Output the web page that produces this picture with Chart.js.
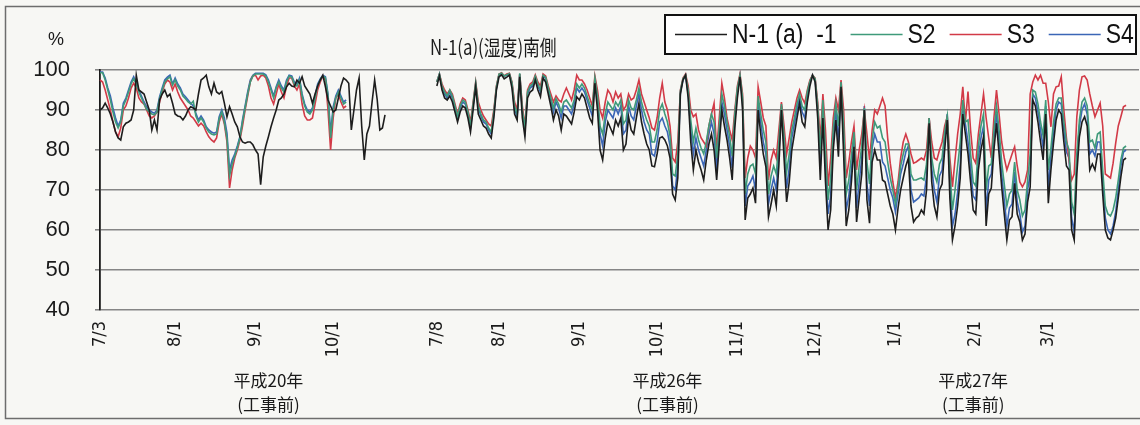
<!DOCTYPE html>
<html>
<head>
<meta charset="utf-8">
<script src="https://cdn.jsdelivr.net/npm/chart.js@4.4.1/dist/chart.umd.min.js"></script>
<style>
  html, body { margin: 0; padding: 0; background: #f7f7f4; }
  #wrap { width: 1140px; height: 425px; position: relative; }
</style>
</head>
<body>
<div id="wrap"><canvas id="c"></canvas></div>
<script>
// ---- daily humidity readings (%) ----
const title = 'N-1(a)(湿度)南側';
const seriesNames = ['N-1 (a)  -1', 'S2', 'S3', 'S4'];

// summer/autumn 2008 (from 7/3)
const n1_2008 = [
  90, 90.5, 91.7, 90.5, 89, 87, 84.5, 83, 82.5, 85.8,
  86.7, 87, 87.5, 90, 98.7, 95, 94.5, 94, 92, 90,
  85, 87.5, 85, 92.5, 94, 95, 93.3, 94, 91.7, 89,
  88.5, 88.3, 87.5, 88.5, 90, 90.8, 90.5, 90, 94, 97.5,
  98, 98.7, 95.8, 94, 96.7, 94.5, 94, 94.6, 91.7, 88.3,
  90.8, 89, 87, 85.8, 83.3, 82, 81.7, 82, 82, 81.3,
  80, 79, 71.3, 78.3, 81, 83.3, 85.8, 88, 90, 92.5,
  93, 94, 95.8, 96.7, 96, 95.8, 97.5, 96.7, 98.3, 96,
  95, 94, 91.7, 94, 96, 97.5, 98.7, 95.8, 92.5, 91,
  89.5, 90, 93, 96, 98, 97.5, 96.7, 85, 90, 95,
  98, 86, 77.5, 84, 86, 92, 97.5, 92.5, 85, 85.5,
  88.8
];
const s2_2008 = [
  99.3, 99.3, 97.5, 95, 92.5, 89.5, 87, 85.5, 87, 91,
  92.5, 94.5, 96.5, 97.8, 96.5, 94.5, 93, 91.5, 90.2, 89.5,
  89, 88.8, 89.5, 92.8, 95, 97, 97.8, 98.3, 96.2, 97.5,
  96, 95, 93.5, 92.8, 92, 91.5, 92.2, 88.5, 87, 88,
  87, 85.5, 84.5, 84, 83.8, 84, 87.8, 89.5, 87, 83,
  73.5, 76.5, 78.5, 80.5, 83, 87, 90.5, 94, 97, 98.5,
  99, 99, 99, 99, 98.5, 97, 95, 93, 95.5, 97,
  95.5, 94.5, 97, 98.5, 98.2, 96.5, 96, 97.5, 93.5, 91,
  89.5, 89, 90, 93, 96, 97.5, 98.5, 98, 93.5, 83,
  90, 93, 94.5, 93, 91.5, 92
];
const s3_2008 = [
  97.5, 97, 95, 92.5, 90, 87, 84.5, 83.3, 85.5, 90,
  91, 93, 95.5, 96.7, 95.5, 93, 92, 91.5, 90, 88.5,
  88, 88.5, 89.5, 92, 94.5, 96.5, 97.5, 97, 95, 96.5,
  94.5, 93, 92, 91, 90, 88.5, 88, 87, 86, 86.7,
  86, 84.5, 83.3, 82.5, 82, 83, 87, 89, 86.5, 82,
  70.5, 75, 78, 80, 82.5, 86, 90, 93.5, 97, 98.5,
  98.7, 97.5, 98.5, 98.7, 98, 96, 93, 91.5, 94, 96.5,
  94.5, 93, 96, 98, 98, 96, 95, 96.5, 91.5, 88.5,
  87.5, 87.5, 88, 91.5, 95, 97, 98.5, 97.5, 90, 80,
  88, 93, 94, 92, 90.5, 91
];
const s4_2008 = [
  99.5, 99.5, 98, 95.5, 93.5, 90.5, 88, 86, 87.5, 91.7,
  93, 95, 97, 98.3, 96.7, 95, 93.5, 92, 90.8, 90,
  89.5, 89.2, 90, 93.3, 95.5, 97.5, 98.2, 98.7, 96.5, 98,
  96.5, 95.5, 94, 93.3, 92.5, 91.7, 91, 89.2, 87.5, 88.5,
  87.5, 85.8, 85, 84.5, 84.2, 84.5, 88.3, 90, 88, 84.2,
  75, 77.5, 79, 81, 83.3, 87.5, 91, 94.5, 97.5, 98.7,
  99.2, 99.2, 99.2, 99.2, 98.8, 97.5, 95.5, 93.5, 95.8, 97.5,
  96, 95, 97.5, 98.7, 98.5, 97, 96.5, 98, 94, 91.5,
  90, 89.5, 90.5, 93.5, 96.5, 97.8, 98.7, 98.3, 94, 84.2,
  90.8, 93.5, 95, 93.5, 92, 92.5
];

// 2014/7/8 - 2015/3/31
const n1_2014 = [
  96, 98.5, 95, 93, 92.5, 93.5, 92, 89.5, 87, 89.5,
  91, 90.5, 88, 84.5, 90, 95.8, 89, 87.5, 86, 85.5,
  84, 83, 88, 95, 98.3, 98.8, 97.8, 98.2, 98.7, 95.5,
  89, 87.5, 98.3, 88, 83.3, 93, 94.5, 95, 97.5, 95,
  93.3, 98, 97, 94, 91, 87.5, 90, 88.5, 85, 89,
  88.5, 87.5, 86.5, 89.5, 93.3, 92.5, 94, 93, 90.5, 88,
  86.7, 96.7, 90, 80, 77.5, 83, 87, 85.5, 84, 87.5,
  86, 88, 80, 81.5, 88.3, 85, 84, 88, 91.7, 87,
  84, 81.5, 80, 76, 75.8, 79, 83, 83.3, 82.5, 81,
  78, 69, 67.5, 73, 94, 97.5, 98.7, 93, 82, 75,
  80, 77, 75, 72.5, 77.5, 81.5, 84, 80, 72.5, 81.5,
  90, 86, 82.5, 78, 72.5, 85.5, 93, 98.3, 90, 62.5,
  68, 69, 70.5, 66.7, 90, 84, 79, 75.8, 63.3, 66.5,
  70, 66, 76, 90, 78, 67, 72, 80, 84, 88,
  91.7, 87, 85.8, 92, 96, 98.7, 97, 88, 72.5, 88,
  72, 60, 65, 80, 87.5, 78.3, 95.8, 79, 61, 65,
  72, 80.8, 62, 68, 74, 90, 67.5, 61.7, 77, 80,
  77.5, 77.5, 72.5, 72, 69, 66, 64, 60, 65.5, 70,
  73, 76, 78, 66, 62, 63, 63.5, 65, 64, 70,
  86.7, 72, 66, 63.3, 70, 71.5, 80, 87.5, 68, 57.5,
  61, 66, 73, 89, 84, 79, 72, 65, 64, 75,
  80, 83.3, 61, 69, 70.5, 80, 86.7, 79, 70.8, 64,
  57.5, 62.5, 63.3, 71.7, 64, 62, 57.5, 59, 67, 70.8,
  92.5, 91, 87, 82, 77.5, 89, 66.7, 75, 81.7, 87.5,
  90, 89, 82, 76, 75, 60, 57.5, 74, 83.3, 87,
  88.3, 86, 75, 76.5, 75, 79, 79, 69, 60, 58,
  57.5, 60, 63, 68, 73.3, 77.5, 78
];
const s2_2014 = [
  97, 99, 96, 94.5, 93.5, 95, 93.5, 91, 88.5, 91,
  92.5, 92, 89.5, 86, 91.5, 96.8, 91, 89, 87.5, 87,
  85.5, 84.5, 89.5, 95.8, 99, 99.2, 98.5, 98.8, 99.1, 96.8,
  91, 89, 99.2, 90, 85.5, 94.5, 96, 96.5, 98.5, 96.5,
  95, 98.7, 98.2, 95.5, 93, 90.5, 92.8, 91.5, 89.5, 92,
  92.5, 91.5, 90.5, 92.5, 96.5, 95.5, 96.5, 95.5, 93.5, 91.5,
  90, 98, 93.5, 86, 84, 89, 92, 91, 90, 92,
  91, 92.5, 86.5, 87.5, 92.5, 90.5, 90, 92.5, 95.5, 92,
  89.5, 87.5, 86, 82, 82, 85, 90, 91.5, 89, 87,
  83.5, 74, 73.5, 79, 94.8, 97.8, 98.8, 95, 87.5, 82,
  85.5, 82.5, 80.5, 79, 82, 86, 89, 87, 78, 86,
  94, 91, 87, 83.5, 78.5, 89, 95.5, 98.7, 93, 69,
  74, 76, 76.5, 74, 93.5, 89, 85, 82, 69, 73.5,
  76, 74, 82, 91.5, 83.5, 74.5, 79, 85, 88, 91.5,
  94, 91, 90, 94.5, 97.2, 98.7, 97.8, 91, 79, 92.5,
  80, 67.5, 73, 85.5, 91.5, 86, 97, 86, 69, 72.5,
  78.5, 84.5, 70, 76, 81, 90.5, 77, 71.5, 82.5, 87,
  85.5, 86, 83, 82, 77, 73, 70, 66.5, 70.5, 76,
  79, 81.5, 81.5, 74, 72.5, 72.5, 72.8, 73, 72.5, 76.5,
  88, 78, 74, 72, 76.5, 78, 84.5, 88.5, 75, 65,
  70, 76, 82, 92.5, 87, 87.5, 79, 72, 71, 81,
  86, 89, 70, 76, 76.5, 85, 91, 85, 77, 71.5,
  66, 69, 70, 77, 70, 67.5, 63.5, 65, 72.5, 79,
  95, 94.5, 91.5, 87, 83.5, 92.5, 75, 80.5, 87, 91.5,
  93, 93, 87, 82, 80, 67, 64, 79, 87.5, 92,
  93, 91, 82, 82.5, 80.5, 84, 84.5, 75, 66, 64,
  63.5, 65, 68, 72.5, 77.5, 80.5, 81
];
const s3_2014 = [
  97, 99, 96.5, 95, 94, 95, 94, 91.5, 89, 91.5,
  93, 92.5, 90, 87, 92, 97, 92, 90, 88.5, 87.5,
  86.5, 86, 90, 96, 99, 99.3, 98.5, 99, 99.2, 97,
  92, 90, 99, 91, 86, 95, 96.5, 97, 98.8, 97,
  96, 99, 98.5, 96, 94, 92, 93.5, 92.5, 92, 94,
  95.5, 94, 92.5, 95, 98.7, 97.5, 97.5, 96.5, 95, 93,
  91, 98.5, 95, 90, 88, 92, 95, 94, 92, 94.5,
  93, 94, 90, 91, 94, 92.5, 93, 95, 97.5, 94,
  92, 90, 88, 85.5, 85, 88, 93, 96.7, 92, 90,
  86, 78, 77, 82, 95, 98, 99, 96, 90, 88.3,
  89, 85, 83, 82, 81, 86, 89, 91.7, 80, 88,
  96.7, 93, 88, 85, 82.5, 90, 96, 99, 94, 73,
  78, 81, 80, 78, 95.8, 92, 88, 86, 72.5, 77.5,
  80, 78, 85, 92, 86, 79, 83, 87, 90, 93,
  95, 93, 91.7, 95, 97.5, 98.7, 98, 92, 82.5, 94,
  85, 71, 78, 88, 93, 90, 97.5, 90, 73, 77,
  82, 86, 75, 80, 84, 90, 84, 77.5, 85, 90,
  89, 91, 93, 91, 83, 76.7, 72, 68, 72, 78,
  82, 84, 82, 79, 76.7, 77, 77.5, 78, 77.5, 80,
  88, 82, 78, 77.5, 80, 82, 86, 88.3, 78, 70.8,
  77.5, 84, 89, 95.8, 87, 94.6, 85, 78, 76.7, 84,
  89, 94, 88, 83, 78, 88, 95, 89, 82, 78,
  75, 77, 79, 80.8, 76, 72, 70.8, 72, 75, 94,
  97, 98.7, 97.5, 98.7, 96.7, 96.7, 92, 85.8, 94, 95.8,
  96, 98.3, 90, 83, 77.5, 72.5, 74, 88.3, 95, 98.3,
  98.5, 97.5, 94, 91, 88.3, 90, 91.7, 86, 74, 73.5,
  73, 76.7, 81.7, 86, 88.3, 90.8, 91.2
];
const s4_2014 = [
  97, 99, 95.5, 94, 93, 94.5, 93, 90.5, 88, 90.5,
  92, 91.5, 89, 85.5, 91, 96.5, 90.5, 88.5, 87, 86.5,
  85, 84, 89, 95.5, 98.8, 99, 98.5, 98.7, 99, 96.5,
  90, 88.5, 99, 89.5, 85, 94, 95.5, 96, 98.3, 96,
  94.5, 98.5, 98, 95, 92.5, 89.5, 92, 90.5, 88, 91,
  91, 90, 89, 91.5, 95.5, 94.5, 95.5, 94.5, 92.5, 90.5,
  88.5, 97.5, 92.5, 84, 81, 87, 90, 89, 88, 90.5,
  89, 91, 84, 85, 91, 88.5, 87.5, 91, 94, 90,
  87, 85, 84, 79, 78.5, 82, 87, 88, 86, 84.5,
  81, 71, 70, 76, 94.5, 97.5, 98.7, 94, 85, 79,
  83, 80, 78, 76, 80, 84, 87, 84, 75, 84,
  92, 89, 85, 81, 75.5, 87.5, 94.5, 98.5, 92, 66,
  71, 72, 73.5, 70, 92, 87, 82, 79, 66.5, 70,
  73, 70, 79, 91, 81, 70.5, 75.5, 83, 86.5, 90,
  93, 89.5, 88, 93.5, 97, 98.7, 97.5, 90, 76, 91,
  76, 64, 68.5, 83, 90, 82, 96.5, 82.5, 65, 68.5,
  75, 83, 65.5, 72, 78, 91, 71.5, 66, 80.5, 84,
  82, 82, 77, 76, 73, 70, 68, 64.5, 69, 74,
  76.5, 79.5, 81, 70, 67, 67.5, 68, 69, 68.5, 73.5,
  88, 75.5, 70, 67, 73.5, 75, 83, 89, 72, 61,
  64, 69.5, 76.5, 91, 86.5, 82, 75.5, 68.5, 67.5, 78,
  83, 86, 64.5, 72.5, 74, 83, 89, 82, 74, 67.5,
  61, 65.5, 66.5, 74.5, 67, 64, 59.5, 61, 70, 74,
  94, 93, 89.5, 85, 80.5, 91, 70, 78.5, 84.5, 90,
  92, 91.5, 85, 79.5, 78, 63, 59.5, 77, 86, 90,
  91.5, 89, 79, 80, 78.5, 82, 82, 72, 63, 60,
  59, 61, 64.5, 70, 76, 79.5, 80
];

// ---- axis ----
function dayRange(first, last) {
  const out = [];
  const d = new Date(first + 'T00:00:00Z');
  const end = new Date(last + 'T00:00:00Z');
  while (d <= end) {
    out.push(d.toISOString().slice(0, 10));
    d.setUTCDate(d.getUTCDate() + 1);
  }
  return out;
}
const days2008 = dayRange('2008-07-03', '2008-10-31');
const days2014 = dayRange('2014-07-08', '2015-03-31');
const gapSlots = 9;
const tailSlots = 5;
const categories = [
  ...days2008,
  ...Array.from({ length: gapSlots }, (_, i) => 'gap' + i),
  ...days2014,
  ...Array.from({ length: tailSlots }, (_, i) => 'end' + i)
];
const tickDates = [
  '2008-07-03', '2008-08-01', '2008-09-01', '2008-10-01',
  '2014-07-08', '2014-08-01', '2014-09-01', '2014-10-01', '2014-11-01', '2014-12-01',
  '2015-01-01', '2015-02-01', '2015-03-01'
];
const yTicks = [40, 50, 60, 70, 80, 90, 100];
const periodLabels = [
  { text: '平成20年', note: '(工事前)', at: '2008-09-06' },
  { text: '平成26年', note: '(工事前)', at: '2014-10-05' },
  { text: '平成27年', note: '(工事前)', at: '2015-01-31' }
];

function fullSeries(a, b) {
  const pad = (arr, n) => arr.concat(Array(Math.max(0, n - arr.length)).fill(null));
  return [
    ...pad(a, days2008.length),
    ...Array(gapSlots).fill(null),
    ...pad(b, days2014.length),
    ...Array(tailSlots).fill(null)
  ];
}

const colors = ['#1d1d1d', '#3f9a7a', '#d23a47', '#3b66b6'];
const sets = [[n1_2008, n1_2014], [s2_2008, s2_2014], [s3_2008, s3_2014], [s4_2008, s4_2014]];

const SANS = '"Liberation Sans", Arial, sans-serif';
const NARROW = '"Liberation Sans Narrow", "DejaVu Sans Condensed", "Liberation Sans", sans-serif';
const JP = '"Noto Sans CJK JP", "Noto Sans", sans-serif';

const decor = {
  id: 'decor',
  beforeDraw(chart) {
    const ctx = chart.ctx;
    ctx.save();
    ctx.fillStyle = '#f7f7f4';
    ctx.fillRect(0, 0, chart.width, chart.height);
    ctx.strokeStyle = '#6d6d6d';
    ctx.lineWidth = 1.5;
    ctx.strokeRect(5.5, 6.5, chart.width + 10, 412);
    ctx.restore();
  },
  afterDraw(chart) {
    const ctx = chart.ctx;
    const xs = chart.scales.x;
    ctx.save();
    ctx.fillStyle = '#1a1a1a';

    // unit
    ctx.font = '18px ' + SANS;
    ctx.textAlign = 'center';
    ctx.textBaseline = 'middle';
    ctx.fillText('%', 56, 40);

    // title
    ctx.save();
    ctx.translate(430, 47);
    ctx.scale(0.8, 1);
    ctx.font = '21px ' + JP;
    ctx.textAlign = 'left';
    ctx.fillText(title, 0, 0);
    ctx.restore();

    // period captions under the date axis
    ctx.font = '17px ' + JP;
    ctx.textAlign = 'center';
    periodLabels.forEach(p => {
      const x = xs.getPixelForValue(categories.indexOf(p.at));
      ctx.fillText(p.text, x, 381);
      ctx.fillText(p.note, x, 405);
    });

    // legend
    const bx = 665, by = 15, bw = 471, bh = 39;
    ctx.fillStyle = '#ffffff';
    ctx.fillRect(bx, by, bw, bh);
    ctx.strokeStyle = '#111';
    ctx.lineWidth = 2;
    ctx.strokeRect(bx, by, bw, bh);
    let x = 675;
    const ym = by + bh / 2;
    chart.data.datasets.forEach(ds => {
      ctx.strokeStyle = ds.borderColor;
      ctx.lineWidth = 1.6;
      ctx.beginPath();
      ctx.moveTo(x, ym);
      ctx.lineTo(x + 52, ym);
      ctx.stroke();
      x += 57;
      ctx.save();
      ctx.translate(x, ym + 1);
      ctx.scale(0.85, 1);
      ctx.font = '27px ' + SANS;
      ctx.textAlign = 'left';
      ctx.textBaseline = 'middle';
      ctx.fillStyle = '#111';
      ctx.fillText(ds.label, 0, 0);
      const w = ctx.measureText(ds.label).width * 0.85;
      ctx.restore();
      x += w + 14;
    });
    ctx.restore();
  }
};

new Chart(document.getElementById('c'), {
  type: 'line',
  data: {
    labels: categories,
    datasets: sets.map((s, i) => ({
      label: seriesNames[i],
      data: fullSeries(s[0], s[1]),
      borderColor: colors[i],
      backgroundColor: colors[i],
      borderWidth: 1.6,
      pointRadius: 0,
      tension: 0,
      spanGaps: false
    }))
  },
  options: {
    responsive: true,
    maintainAspectRatio: false,
    devicePixelRatio: 1,
    animation: false,
    layout: { padding: { top: 70, right: 1, bottom: 0, left: 0 } },
    plugins: { legend: { display: false }, tooltip: { enabled: false } },
    scales: {
      x: {
        type: 'category',
        grid: { display: false, drawTicks: false },
        border: { display: false },
        afterFit(scale) { scale.height = 115; },
        ticks: {
          autoSkip: false,
          minRotation: 90,
          maxRotation: 90,
          padding: 11,
          color: '#1a1a1a',
          font: { family: NARROW, size: 18 },
          callback(value, index) {
            const key = categories[index];
            if (!tickDates.includes(key)) return null;
            const [, m, d] = key.split('-');
            return (+m) + '/' + (+d);
          }
        }
      },
      y: {
        min: 40,
        max: 100,
        afterFit(scale) { scale.width = 100; },
        afterBuildTicks(scale) { scale.ticks = yTicks.map(v => ({ value: v })); },
        grid: { color: '#868686', lineWidth: 1.6, tickLength: 5, drawTicks: true },
        border: { display: true, color: '#1a1a1a', width: 1.8 },
        ticks: {
          padding: 25,
          color: '#1a1a1a',
          font: { family: SANS, size: 22 }
        }
      }
    }
  },
  plugins: [decor]
});
</script>
</body>
</html>
